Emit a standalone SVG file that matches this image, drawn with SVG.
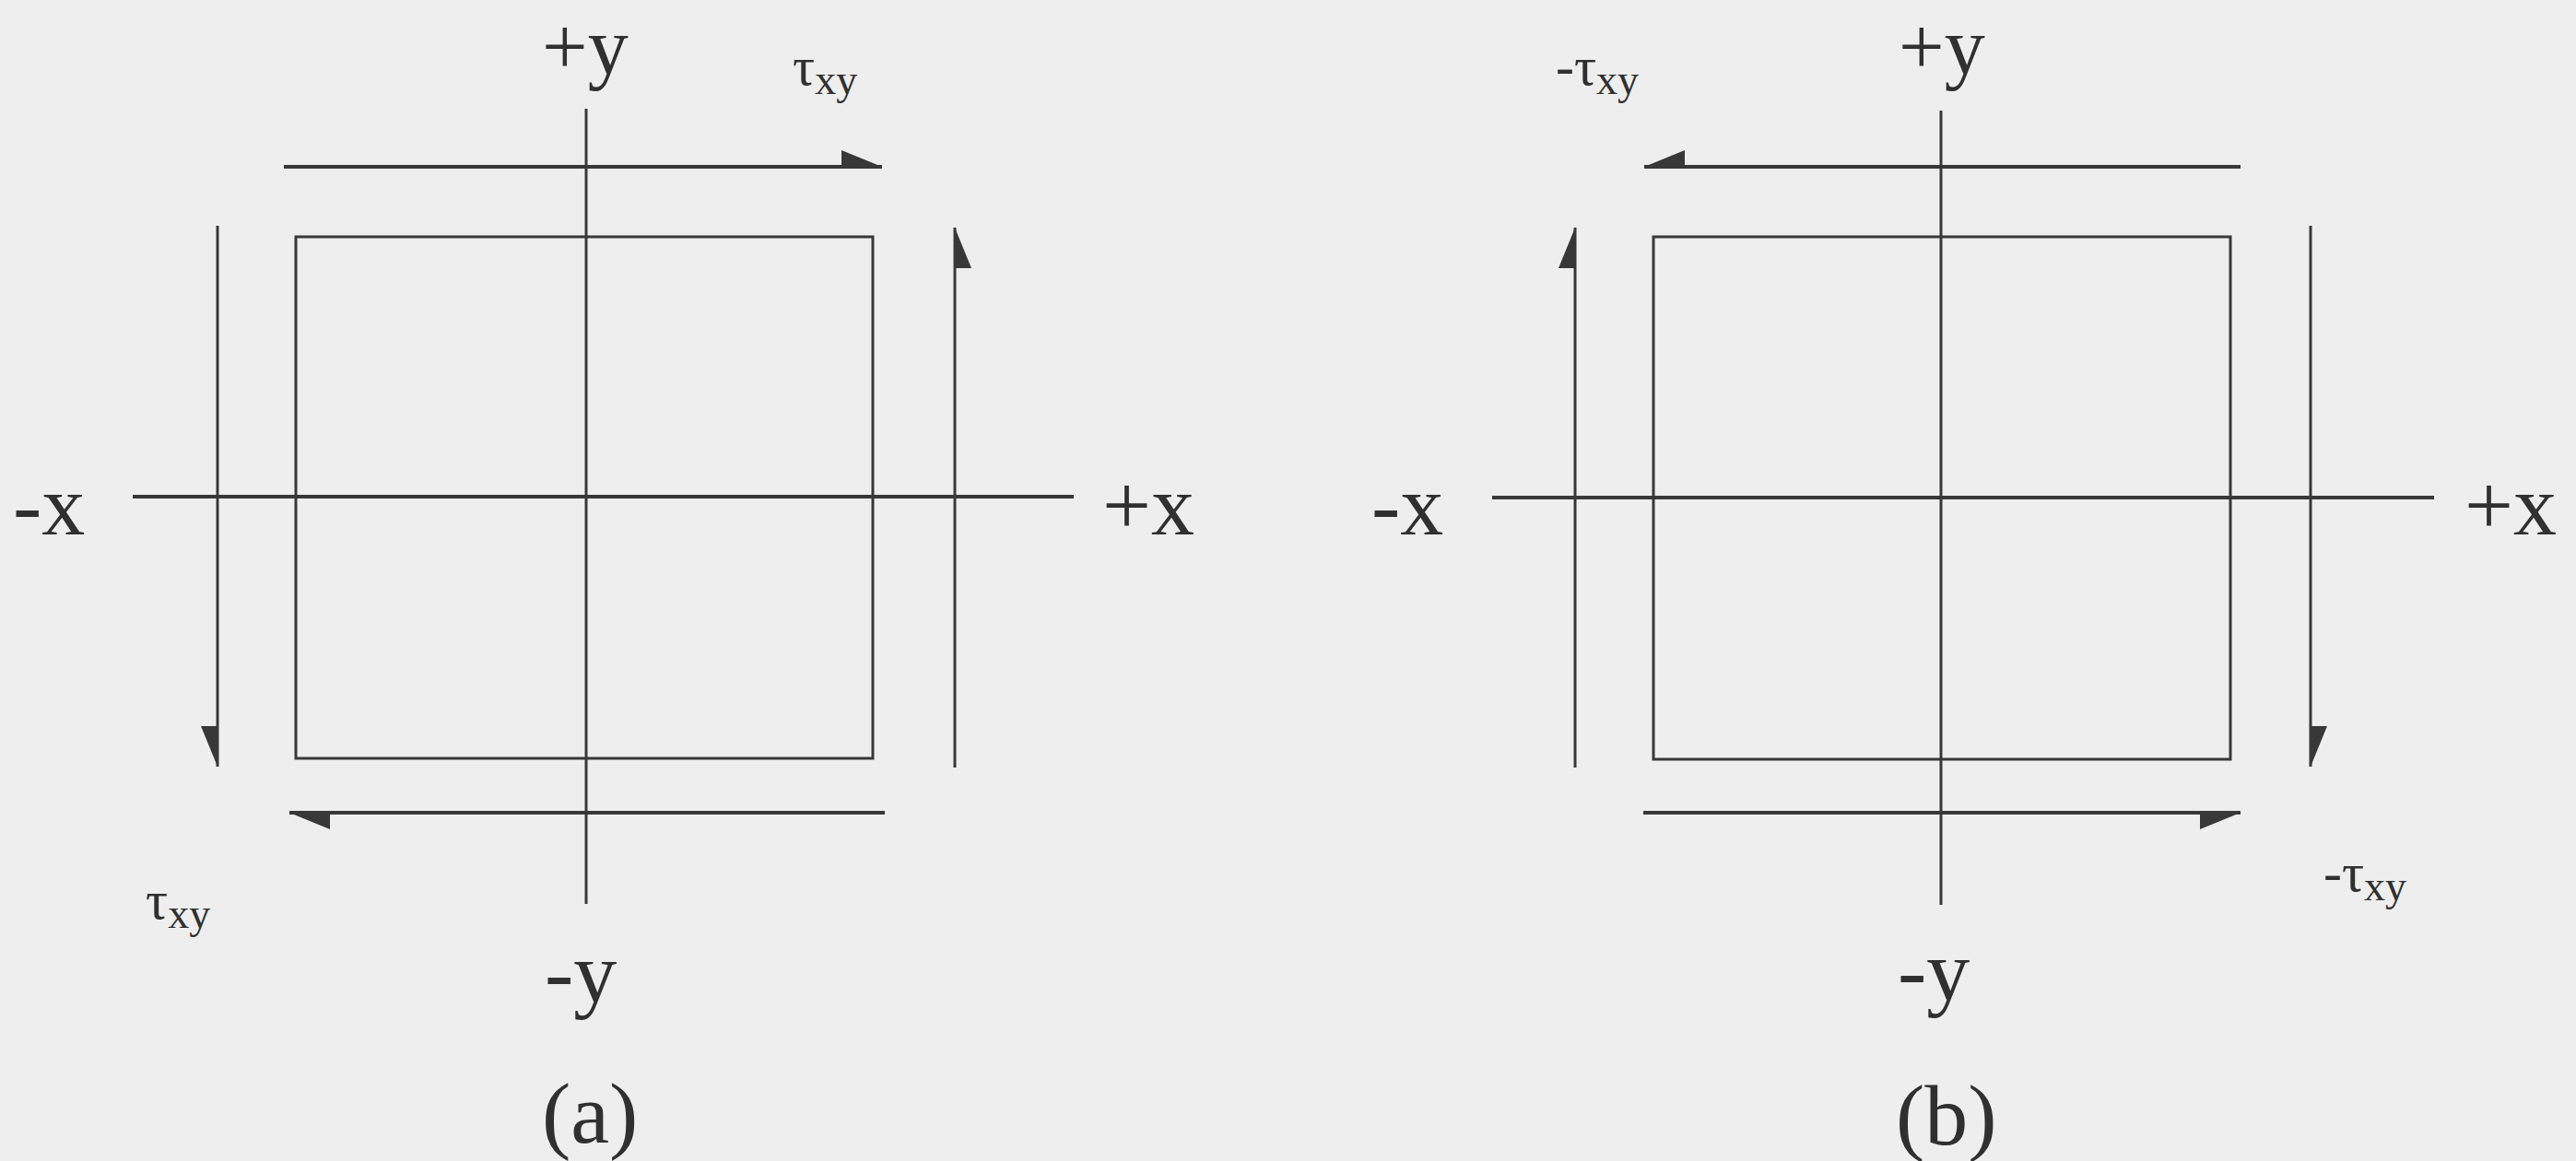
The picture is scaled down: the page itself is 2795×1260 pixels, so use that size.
<svg xmlns="http://www.w3.org/2000/svg" width="2795" height="1260" viewBox="0 0 2795 1260">
  <style>
    .ln { stroke: #383838; stroke-width: 3; fill: none; }
    .thk { stroke: #383838; stroke-width: 4; fill: none; }
    .lbl { font-family: "Liberation Serif", "Times New Roman", serif; font-size: 94px; fill: #303030; }
    .top { font-size: 88px; }
    .tau { font-family: "Liberation Serif", "Times New Roman", serif; font-size: 60px; fill: #303030; }
    .sub { font-size: 46px; }
  </style>
  <defs>
    <marker id="halfL" viewBox="-46 -20 48 40" markerWidth="48" markerHeight="40" refX="0" refY="0" orient="auto" markerUnits="userSpaceOnUse">
      <path d="M0,0 L-44,-18 L-44,0 Z" fill="#383838"/>
    </marker>
    <marker id="halfR" viewBox="-46 -20 48 40" markerWidth="48" markerHeight="40" refX="0" refY="0" orient="auto" markerUnits="userSpaceOnUse">
      <path d="M0,0 L-44,18 L-44,0 Z" fill="#383838"/>
    </marker>
  </defs>
  <rect x="0" y="0" width="2795" height="1260" fill="#eeeeee"/>

  <g id="panel-a">
    <g id="a-axes">
      <line class="ln" x1="636" y1="118" x2="636" y2="981"/>
      <line class="thk" x1="144" y1="539" x2="1165" y2="539"/>
    </g>
    <g id="a-element">
      <rect class="ln" x="321" y="257" width="626" height="566"/>
    </g>
    <g id="a-labels">
      <text class="lbl top" x="588" y="80">+y</text>
      <text class="lbl" x="14" y="580">-x</text>
      <text class="lbl" x="1196" y="580">+x</text>
      <text class="lbl" x="591" y="1087">-y</text>
      <text class="lbl" x="588" y="1240">(a)</text>
      <text class="tau" x="860" y="92">τ<tspan class="sub" dy="10">xy</tspan></text>
      <text class="tau" x="158" y="997">τ<tspan class="sub" dy="10">xy</tspan></text>
    </g>
  </g>

  <g id="panel-b">
    <g id="b-axes">
      <line class="ln" x1="2106" y1="120" x2="2106" y2="982"/>
      <line class="thk" x1="1619" y1="540" x2="2641" y2="540"/>
    </g>
    <g id="b-element">
      <rect class="ln" x="1794" y="257" width="626" height="567"/>
    </g>
    <g id="b-labels">
      <text class="lbl top" x="2060" y="80">+y</text>
      <text class="lbl" x="1488" y="580">-x</text>
      <text class="lbl" x="2674" y="580">+x</text>
      <text class="lbl" x="2059" y="1085">-y</text>
      <text class="lbl" x="2057" y="1242">(b)</text>
      <text class="tau" x="1688" y="92">-τ<tspan class="sub" dy="10">xy</tspan></text>
      <text class="tau" x="2521" y="967">-τ<tspan class="sub" dy="10">xy</tspan></text>
    </g>
  </g>

  <g id="connectors">
    <line class="thk" x1="308" y1="181" x2="957" y2="181" marker-end="url(#halfL)"/>
    <line class="thk" x1="960" y1="882" x2="314" y2="882" marker-end="url(#halfL)"/>
    <line class="ln" x1="236" y1="245" x2="236" y2="832" marker-end="url(#halfR)"/>
    <line class="ln" x1="1036" y1="833" x2="1036" y2="247" marker-end="url(#halfR)"/>

    <line class="thk" x1="2431" y1="181" x2="1784" y2="181" marker-end="url(#halfR)"/>
    <line class="thk" x1="1783" y1="882" x2="2431" y2="882" marker-end="url(#halfR)"/>
    <line class="ln" x1="1709" y1="833" x2="1709" y2="247" marker-end="url(#halfL)"/>
    <line class="ln" x1="2507" y1="245" x2="2507" y2="832" marker-end="url(#halfL)"/>
  </g>
</svg>
